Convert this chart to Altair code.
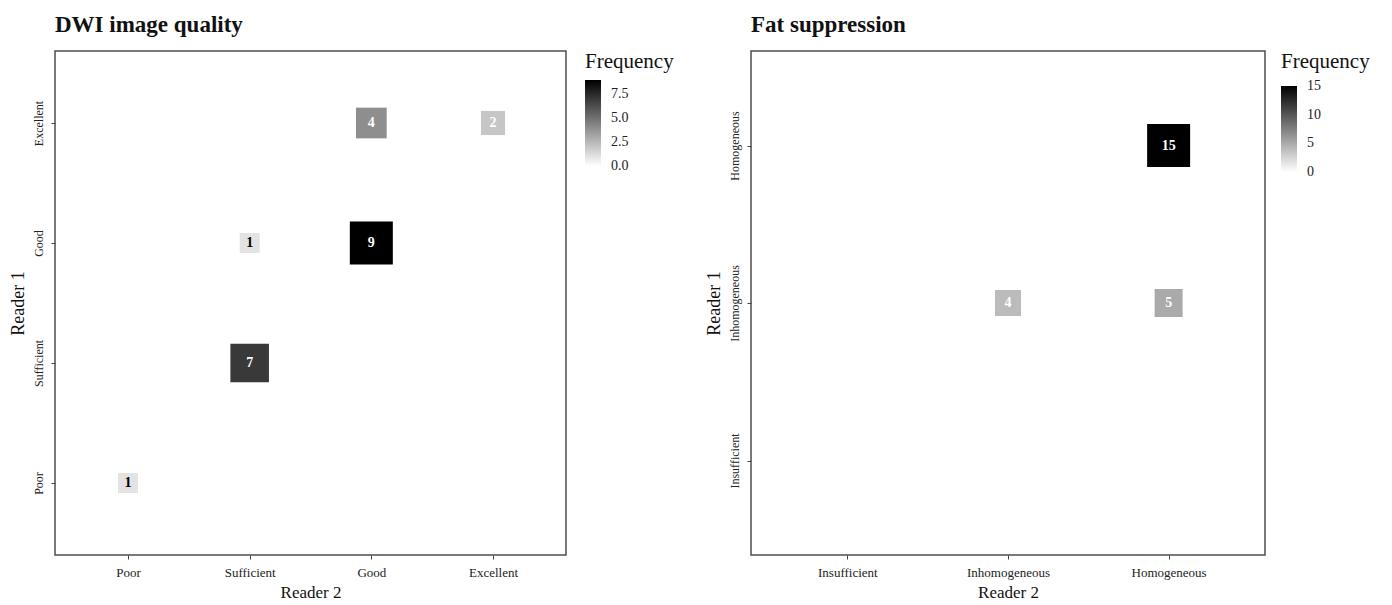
import altair as alt
import pandas as pd

# ---- data ----
dwi_levels = ["Poor", "Sufficient", "Good", "Excellent"]
dwi_reader2 = ["Poor", "Sufficient", "Sufficient", "Good", "Good", "Excellent"]
dwi_reader1 = ["Poor", "Sufficient", "Good", "Good", "Excellent", "Excellent"]
dwi_freq = [1, 7, 1, 9, 4, 2]

fat_levels = ["Insufficient", "Inhomogeneous", "Homogeneous"]
fat_reader2 = ["Inhomogeneous", "Homogeneous", "Homogeneous"]
fat_reader1 = ["Inhomogeneous", "Inhomogeneous", "Homogeneous"]
fat_freq = [4, 5, 15]

FONT = "Liberation Serif"
EPS = 0.001  # keeps end labels centred on the gradient ends


def panel(reader2, reader1, freq, levels, title, width, size_dom, size_rng,
          color_max, legend_vals, legend_fmt, legend_offset, legend_tpad):
    df = pd.DataFrame({"Reader2": reader2, "Reader1": reader1, "Freq": freq})
    x = alt.X(
        "Reader2:N",
        sort=levels,
        scale=alt.Scale(type="point", domain=levels, padding=0.6),
        axis=alt.Axis(
            title="Reader  2", labelAngle=0, labelFont=FONT, labelFontSize=13,
            labelColor="#222", titleFont=FONT, titleFontSize=17,
            titleFontWeight="normal", titleColor="#111", titlePadding=5,
            tickSize=4, tickColor="#444", domain=False, grid=False,
            labelPadding=7,
        ),
    )
    y = alt.Y(
        "Reader1:N",
        sort=levels[::-1],
        scale=alt.Scale(type="point", domain=levels[::-1], padding=0.6),
        axis=alt.Axis(
            title="Reader  1", labelAngle=270, labelAlign="center",
            labelBaseline="bottom", labelFont=FONT, labelFontSize=12,
            labelColor="#222", titleFont=FONT, titleFontSize=18,
            titleFontWeight="normal", titleColor="#111", titlePadding=5,
            tickSize=4, tickColor="#444", domain=False, grid=False,
            labelPadding=6,
        ),
    )
    color = alt.Color(
        "Freq:Q",
        scale=alt.Scale(domain=[-EPS, color_max + EPS], range=["white", "black"],
                        interpolate="rgb", nice=False, zero=False),
        legend=alt.Legend(
            title="Frequency", titleFont=FONT, titleFontSize=21,
            titleFontWeight="normal", titleColor="#111",
            titlePadding=legend_tpad,
            labelFont=FONT, labelFontSize=14, labelColor="#222",
            labelOffset=10, labelOverlap=False,
            values=legend_vals, format=legend_fmt, gradientLength=86,
            gradientThickness=16, gradientStrokeWidth=0, offset=legend_offset,
            direction="vertical", orient="right", padding=0,
        ),
    )
    size = alt.Size(
        "Freq:Q",
        scale=alt.Scale(domain=size_dom, range=size_rng, zero=False),
        legend=None,
    )
    squares = alt.Chart(df).mark_square(filled=True, opacity=1).encode(
        x=x, y=y, color=color, size=size
    )
    labels = alt.Chart(df).mark_text(
        font=FONT, fontSize=14, fontWeight="bold", baseline="middle"
    ).encode(
        x=x, y=y, text="Freq:Q",
        color=alt.condition(alt.datum.Freq > 1, alt.value("white"),
                            alt.value("black")),
    )
    return alt.layer(squares, labels).resolve_scale(color="independent").properties(
        width=width, height=504,
        title=alt.TitleParams(
            title, anchor="start", frame="group", font=FONT, fontSize=23,
            fontWeight="bold", color="#111", offset=14,
        ),
    )


p1 = panel(dwi_reader2, dwi_reader1, dwi_freq, dwi_levels, "DWI image quality",
           511, [1, 9], [400, 1849], 9, [0, 2.5, 5, 7.5], ".1f", 19, 8)
p2 = panel(fat_reader2, fat_reader1, fat_freq, fat_levels, "Fat suppression",
           514, [4, 15], [676, 1849], 15, [0, 5, 10, 15], "d", 16, 14)

chart = alt.hconcat(p1, p2, spacing=29).resolve_scale(
    color="independent", size="independent"
).resolve_legend(color="independent").properties(
    background="white",
    padding={"left": 0, "top": 5, "right": 5, "bottom": 2},
).configure_view(
    stroke="#4d4d4d", strokeWidth=1.5
)

chart.save("out.html", embed_options={"renderer": "svg", "actions": False})
